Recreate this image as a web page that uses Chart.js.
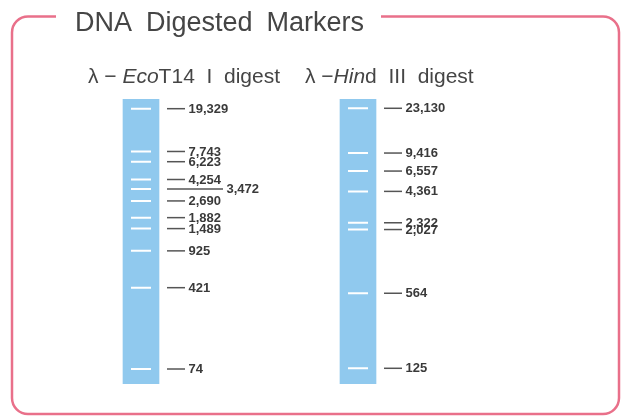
<!DOCTYPE html>
<html>
<head>
<meta charset="utf-8">
<script src="https://cdn.jsdelivr.net/npm/chart.js@4.4.0/dist/chart.umd.min.js"></script>
<style>
  html, body { margin: 0; padding: 0; background: #fff; }
  #wrap { width: 626px; height: 417px; }
</style>
</head>
<body>
<div id="wrap"><canvas id="gelChart"></canvas></div>
<script>
// band sizes in bp
var ecoSizes = [19329, 7743, 6223, 4254, 3472, 2690, 1882, 1489, 925, 421, 74];
var ecoLabels = ['19,329', '7,743', '6,223', '4,254', '3,472', '2,690', '1,882', '1,489', '925', '421', '74'];
var hindSizes = [23130, 9416, 6557, 4361, 2322, 2027, 564, 125];
var hindLabels = ['23,130', '9,416', '6,557', '4,361', '2,322', '2,027', '564', '125'];
// gel range of each lane (bp), top and bottom of the lane
var ecoRange = [53.7, 23780];
var hindRange = [91.2, 27870];
// lane titles: [text, italic]
var ecoTitle = [['λ', false], [' − ', false], ['Eco', true], ['T14', false], ['  I  ', false], ['digest', false]];
var hindTitle = [['λ', false], [' −', false], ['Hin', true], ['d', false], ['  III  ', false], ['digest', false]];
var mainTitle = ['DNA', 'Digested', 'Markers'];

var laneBlue = '#90c9ee';
var textColor = '#3a3a3a';

function drawPieces(ctx, pieces, x, y, size) {
    pieces.forEach(function (p) {
        ctx.font = (p[1] ? 'italic ' : '') + size + 'px "Liberation Sans"';
        ctx.fillText(p[0], x, y);
        x += ctx.measureText(p[0]).width;
    });
}

var framePlugin = {
    id: 'frame',
    beforeDraw: function (chart) {
        var ctx = chart.ctx;
        ctx.save();
        ctx.strokeStyle = '#e9708a';
        ctx.lineWidth = 2.5;
        var l = 12, t = 16.5, r = 619, b = 414, rad = 16;
        ctx.beginPath();
        ctx.moveTo(56, t);
        ctx.lineTo(l + rad, t);
        ctx.arcTo(l, t, l, t + rad, rad);
        ctx.lineTo(l, b - rad);
        ctx.arcTo(l, b, l + rad, b, rad);
        ctx.lineTo(r - rad, b);
        ctx.arcTo(r, b, r, b - rad, rad);
        ctx.lineTo(r, t + rad);
        ctx.arcTo(r, t, r - rad, t, rad);
        ctx.lineTo(381, t);
        ctx.stroke();

        ctx.fillStyle = '#454545';
        ctx.textBaseline = 'alphabetic';
        ctx.font = '27px "Liberation Sans"';
        var x = 75;
        mainTitle.forEach(function (w) {
            ctx.fillText(w, x, 30.5);
            x += ctx.measureText(w).width + 14;
        });

        drawPieces(ctx, ecoTitle, 88, 83, 21);
        drawPieces(ctx, hindTitle, 305, 83, 21);
        ctx.restore();
    }
};

var labelPlugin = {
    id: 'bandLabels',
    afterDatasetsDraw: function (chart) {
        var ctx = chart.ctx;
        var sets = [[2, ecoLabels], [3, hindLabels]];
        ctx.save();
        ctx.font = 'bold 13px "Liberation Sans"';
        ctx.textBaseline = 'middle';
        sets.forEach(function (s) {
            var meta = chart.getDatasetMeta(s[0]);
            meta.data.forEach(function (pt, i) {
                var lbl = s[1][i];
                var side = lbl === '3,472';
                var x0 = pt.x + 26, x1 = pt.x + (side ? 82 : 44);
                ctx.strokeStyle = '#555';
                ctx.lineWidth = 1.5;
                ctx.beginPath();
                ctx.moveTo(x0, pt.y);
                ctx.lineTo(x1, pt.y);
                ctx.stroke();
                ctx.fillStyle = textColor;
                ctx.fillText(lbl, x1 + 3.5, pt.y + 0.5);
            });
        });
        ctx.restore();
    }
};

var ctx = document.getElementById('gelChart').getContext('2d');
var gelChart = new Chart(ctx, {
    type: 'bar',
    data: {
        datasets: [{
            type: 'bar',
            data: [{ x: 0, y: ecoRange }],
            yAxisID: 'y',
            backgroundColor: laneBlue,
            barThickness: 36,
            grouped: false,
            order: 2
        }, {
            type: 'bar',
            data: [{ x: 1, y: hindRange }],
            yAxisID: 'y2',
            backgroundColor: laneBlue,
            barThickness: 36,
            grouped: false,
            order: 2
        }, {
            type: 'scatter',
            data: ecoSizes.map(function (v) { return { x: 0, y: v }; }),
            yAxisID: 'y',
            pointStyle: 'line',
            radius: 10,
            borderColor: '#ffffff',
            borderWidth: 2,
            order: 1
        }, {
            type: 'scatter',
            data: hindSizes.map(function (v) { return { x: 1, y: v }; }),
            yAxisID: 'y2',
            pointStyle: 'line',
            radius: 10,
            borderColor: '#ffffff',
            borderWidth: 2,
            order: 1
        }]
    },
    options: {
        responsive: true,
        maintainAspectRatio: false,
        animation: false,
        layout: { padding: { left: 32.5, right: 159.5, top: 99, bottom: 33 } },
        plugins: { legend: { display: false }, tooltip: { enabled: false } },
        scales: {
            x: { type: 'linear', min: -0.5, max: 1.5, offset: false, display: false },
            y: { type: 'logarithmic', min: ecoRange[0], max: ecoRange[1], display: false },
            y2: { type: 'logarithmic', min: hindRange[0], max: hindRange[1], display: false }
        }
    },
    plugins: [framePlugin, labelPlugin]
});
</script>
</body>
</html>
